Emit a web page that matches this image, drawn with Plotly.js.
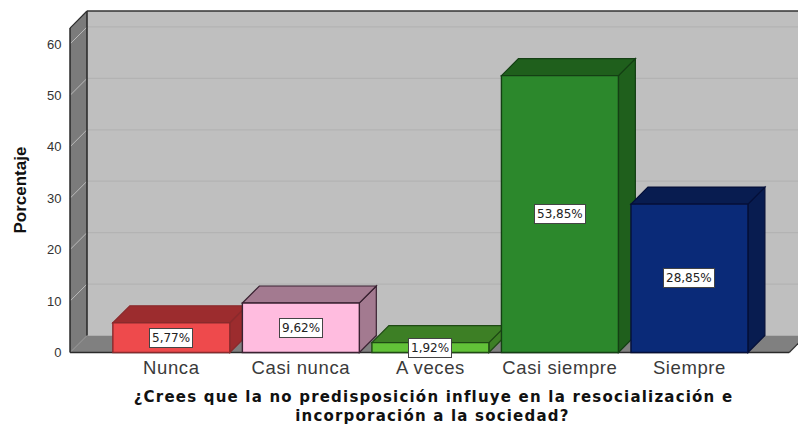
<!DOCTYPE html>
<html>
<head>
<meta charset="utf-8">
<script src="https://cdn.plot.ly/plotly-3.0.1.min.js"></script>
<style>html,body{margin:0;padding:0;background:#fff}#chart{width:798px;height:426px}
#chart .xtick text{letter-spacing:0.6px}
#chart text.xtitle, #chart .annotation[data-index="5"] text{letter-spacing:1.2px}</style>
</head>
<body>
<div id="chart"></div>
<script>
var categories = ["Nunca", "Casi nunca", "A veces", "Casi siempre", "Siempre"];
var values = [5.77, 9.62, 1.92, 53.85, 28.85];
var valueLabels = ["5,77%", "9,62%", "1,92%", "53,85%", "28,85%"];
var yTicks = [0, 10, 20, 30, 40, 50, 60];
var frontColors = ["#ee4a4c", "#ffbcdf", "#62c238", "#2c882c", "#0a2a78"];
var shadeColors = ["#9c2c2e", "#a37a90", "#3d7f25", "#1f5f1c", "#081c50"];
var edgeColors = ["#8a2a2c", "#3a2232", "#1f4a14", "#143f14", "#050f38"];
var yTitle = "Porcentaje";
var xTitleLine1 = "¿Crees que la no predisposición influye en la resocialización e";
var xTitleLine2 = "incorporación a la sociedad?";

var barW = 0.903, depthX = 0.131, depthY = 3.31;
var xMin = -0.79, xMax = 4.838, yMin = -0.3, yMax = 67.0;
var xFront0 = -0.782, xFront1 = 4.77, yFrontTop = 63.1;

function poly(pts, fill, line, width) {
  var d = pts.map(function (p, i) { return (i ? "L" : "M") + p[0] + "," + p[1]; }).join(" ") + " Z";
  return {type: "path", path: d, xref: "x", yref: "y", layer: "below",
          fillcolor: fill, line: {color: line || fill, width: width === undefined ? 1 : width}};
}
function seg(x0, y0, x1, y1, color, width) {
  return {type: "line", x0: x0, y0: y0, x1: x1, y1: y1, xref: "x", yref: "y", layer: "below",
          line: {color: color, width: width}};
}

var shapes = [];
shapes.push(poly([[xFront0 + depthX, depthY], [xFront0 + depthX, yFrontTop + depthY], [xMax + 1, yFrontTop + depthY], [xMax + 1, depthY]], "#bfbfbf", "#bfbfbf", 0));
shapes.push(poly([[xFront0, 0], [xFront0, yFrontTop], [xFront0 + depthX, yFrontTop + depthY], [xFront0 + depthX, depthY]], "#7b7b7b", "#7b7b7b", 0));
shapes.push(poly([[xFront0, 0], [xFront0 + depthX, depthY], [xFront1 + depthX, depthY], [xFront1, 0]], "#808080", "#808080", 0));
yTicks.slice(1).forEach(function (t) {
  shapes.push(seg(xFront0 + depthX, t + depthY, xMax + 1, t + depthY, "#b3b3b3", 1.2));
  shapes.push(seg(xFront0, t, xFront0 + depthX, t + depthY, "#b9b9b9", 1));
});
shapes.push(seg(xFront0 + depthX, depthY, xFront0 + depthX, yFrontTop + depthY, "#2e2e2e", 1.6));
shapes.push(seg(xFront0 + depthX, yFrontTop + depthY, xMax + 1, yFrontTop + depthY, "#333333", 1.4));
shapes.push(seg(xFront0, 0, xFront0, yFrontTop, "#2e2e2e", 1.6));
shapes.push(seg(xFront0, yFrontTop, xFront0 + depthX, yFrontTop + depthY, "#2e2e2e", 1.2));
shapes.push(seg(xFront1, 0, xFront1 + depthX, depthY, "#333333", 1.2));
shapes.push(seg(xFront0, 0, xFront1, 0, "#2a2a2a", 1.6));

values.forEach(function (v, i) {
  var l = i - barW / 2, r = i + barW / 2;
  shapes.push(poly([[r, 0], [r + depthX, depthY], [r + depthX, v + depthY], [r, v]], shadeColors[i], edgeColors[i], 1.2));
  shapes.push(poly([[l, v], [l + depthX, v + depthY], [r + depthX, v + depthY], [r, v]], shadeColors[i], edgeColors[i], 1.2));
});

var xIdx = categories.map(function (c, i) { return i; });
var trace = {
  type: "bar", x: xIdx, y: values, width: barW, hoverinfo: "skip",
  marker: {color: frontColors, line: {color: edgeColors, width: 1.4}}
};

var annotations = values.map(function (v, i) {
  return {x: i, y: v / 2, xref: "x", yref: "y", text: valueLabels[i], showarrow: false,
          xanchor: "center", yanchor: "middle",
          font: {family: "DejaVu Sans, sans-serif", size: 12, color: "#222"},
          bgcolor: "#ffffff", bordercolor: "#444444", borderwidth: 1, borderpad: 2};
});
annotations.push({
  xref: "paper", yref: "paper", x: 0.4985, y: -0.1785, xanchor: "center", yanchor: "middle",
  showarrow: false, text: "<b>" + xTitleLine2 + "</b>",
  font: {family: "DejaVu Sans, sans-serif", size: 15, color: "#111"}
});
annotations.push({
  xref: "paper", yref: "paper", x: -0.0665, y: 0.474, xanchor: "center", yanchor: "middle",
  textangle: -90, showarrow: false, text: "<b>" + yTitle + "</b>",
  font: {family: "Liberation Sans, Arial, sans-serif", size: 17, color: "#111"}
});

var layout = {
  width: 798, height: 426,
  margin: {l: 69, r: 0, t: 8, b: 72},
  paper_bgcolor: "#ffffff", plot_bgcolor: "#ffffff",
  showlegend: false, bargap: 0,
  shapes: shapes,
  annotations: annotations,
  xaxis: {
    range: [xMin, xMax], tickmode: "array", tickvals: xIdx, ticktext: categories,
    showgrid: false, zeroline: false, showline: false, ticks: "", ticklen: 0,
    tickfont: {family: "Liberation Sans, Arial, sans-serif", size: 18.5, color: "#3a3a3a"},
    title: {text: "<b>" + xTitleLine1 + "</b>", standoff: 14.5,
            font: {family: "DejaVu Sans, sans-serif", size: 15, color: "#111"}}
  },
  yaxis: {
    range: [yMin, yMax], tickmode: "array", tickvals: yTicks, ticktext: yTicks.map(String),
    showgrid: false, zeroline: false, showline: false, ticks: "outside", ticklen: 4, tickcolor: "rgba(0,0,0,0)",
    tickfont: {family: "Liberation Sans, Arial, sans-serif", size: 13, color: "#333"}
  }
};
Plotly.newPlot("chart", [trace], layout, {displayModeBar: false, staticPlot: true});
</script>
</body>
</html>
